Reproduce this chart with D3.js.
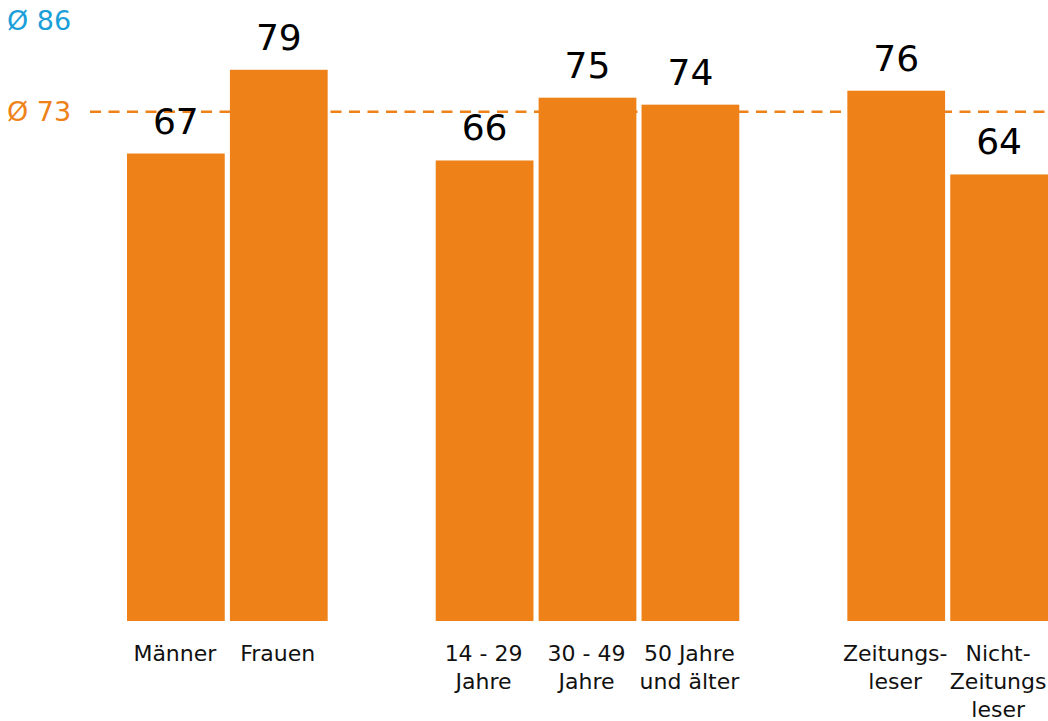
<!DOCTYPE html>
<html lang="de">
<head>
<meta charset="utf-8">
<style>
    body { margin: 0; background: #fff; }
    svg { display: block; font-family: "DejaVu Sans", Verdana, sans-serif; }
</style>
</head>
<body>
<svg width="1048" height="721"></svg>
<script src="https://cdn.jsdelivr.net/npm/d3@7"></script>
<script>
    // data
    var categories = ["Männer", "Frauen", "14 - 29 Jahre", "30 - 49 Jahre", "50 Jahre und älter", "Zeitungsleser", "Nicht-Zeitungsleser"];
    var labelLines = [["Männer"], ["Frauen"], ["14 - 29", "Jahre"], ["30 - 49", "Jahre"], ["50 Jahre", "und älter"], ["Zeitungs-", "leser"], ["Nicht-", "Zeitungs", "leser"]];
    var groupIndex = [0, 0, 1, 1, 1, 2, 2];
    var values = [67, 79, 66, 75, 74, 76, 64];
    var avgLabels = ["Ø 86", "Ø 73"];
    var avgValues = [86, 73];
    var avgColors = ["#1a9fd8", "#ee8219"];
    var avgHasLine = [false, true];

    var orange = "#ee8219";

    var svg = d3.select("svg"),
        width = +svg.attr("width"),
        height = +svg.attr("height");

    // one empty slot between groups
    var slots = categories.map(function (c, i) { return i + groupIndex[i]; });

    var x = d3.scaleBand()
        .domain(d3.range(slots[slots.length - 1] + 1))
        .range([127, 1048])
        .paddingInner(0.05)
        .paddingOuter(0);

    var y = d3.scaleLinear()
        .domain([0, 89])
        .range([621, 0]);

    // average lines (behind bars)
    svg.selectAll(".avgline")
        .data(avgValues.filter(function (v, i) { return avgHasLine[i]; }))
        .enter()
        .append("line")
        .attr("class", "avgline")
        .attr("x1", 90)
        .attr("x2", width)
        .attr("y1", function (d) { return y(d); })
        .attr("y2", function (d) { return y(d); })
        .attr("stroke", orange)
        .attr("stroke-width", 2.5)
        .attr("stroke-dasharray", "11,7.5");

    svg.selectAll(".avglabel")
        .data(avgValues)
        .enter()
        .append("text")
        .attr("class", "avglabel")
        .attr("x", 7)
        .attr("y", function (d) { return y(d); })
        .attr("dy", "0.35em")
        .attr("font-size", 27)
        .attr("fill", function (d, i) { return avgColors[i]; })
        .text(function (d, i) { return avgLabels[i]; });

    // bars
    svg.selectAll(".bar")
        .data(values)
        .enter()
        .append("rect")
        .attr("class", "bar")
        .attr("x", function (d, i) { return x(slots[i]); })
        .attr("width", x.bandwidth())
        .attr("y", function (d) { return y(d); })
        .attr("height", function (d) { return y(0) - y(d); })
        .attr("fill", orange);

    // value labels
    svg.selectAll(".value")
        .data(values)
        .enter()
        .append("text")
        .attr("class", "value")
        .attr("x", function (d, i) { return x(slots[i]) + x.bandwidth() / 2; })
        .attr("y", function (d) { return y(d) - 20; })
        .attr("text-anchor", "middle")
        .attr("font-size", 36)
        .attr("fill", "#000")
        .text(function (d) { return d; });

    // category labels
    var cat = svg.selectAll(".cat")
        .data(categories)
        .enter()
        .append("text")
        .attr("class", "cat")
        .attr("text-anchor", "middle")
        .attr("font-size", 22)
        .attr("fill", "#111");

    cat.selectAll("tspan")
        .data(function (d, i) {
            return labelLines[i].map(function (l) { return { line: l, i: i }; });
        })
        .enter()
        .append("tspan")
        .attr("x", function (d) { return x(slots[d.i]) + x.bandwidth() / 2 - 1; })
        .attr("y", function (d, j) { return y(0) + 40 + j * 28; })
        .text(function (d) { return d.line; });
</script>
</body>
</html>
